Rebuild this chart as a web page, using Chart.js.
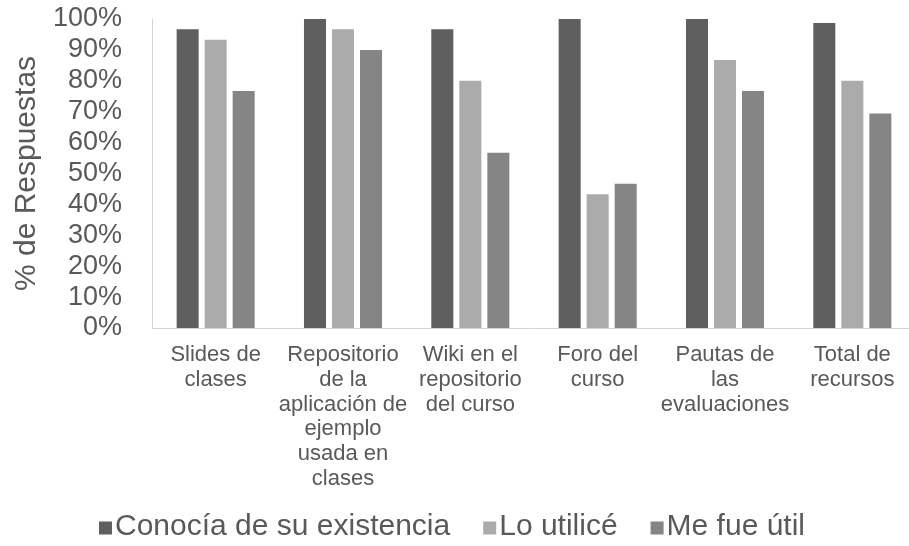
<!DOCTYPE html>
<html>
<head>
<meta charset="utf-8">
<script src="https://cdn.jsdelivr.net/npm/chart.js@4/dist/chart.umd.min.js"></script>
<style>
  html, body { margin: 0; padding: 0; background: #ffffff; overflow: hidden; }
  #chart { display: block; }
</style>
</head>
<body>
<canvas id="chart" width="920" height="546"></canvas>
<script>
// Recursos del curso: porcentaje de respuestas por recurso
const categories = [
  ['Slides de', 'clases'],
  ['Repositorio', 'de la', 'aplicación de', 'ejemplo', 'usada en', 'clases'],
  ['Wiki en el', 'repositorio', 'del curso'],
  ['Foro del', 'curso'],
  ['Pautas de', 'las', 'evaluaciones'],
  ['Total de', 'recursos']
];
const seriesNames = ['Conocía de su existencia', 'Lo utilicé', 'Me fue útil'];
const conocia = [96.7, 100, 96.7, 100, 100, 98.7];
const utilice = [93.3, 96.7, 80, 43.3, 86.7, 80];
const util    = [76.7, 90, 56.7, 46.7, 76.7, 69.4];
const yTicks  = [0, 10, 20, 30, 40, 50, 60, 70, 80, 90, 100];
const yTitle  = '% de Respuestas';

const FONT = '"Liberation Sans", Arial, sans-serif';
const TEXT = '#595959';
const colors = ['#5f5f5f', '#ababab', '#858585'];

// Legend row drawn under the category labels: small square followed by its text
const legendRow = {
  id: 'legendRow',
  afterDraw(chart) {
    const ctx = chart.ctx;
    ctx.save();
    ctx.font = '30px ' + FONT;
    ctx.textBaseline = 'middle';
    const box = 13, gap = 3, spacing = 33;
    const items = chart.data.datasets.map(d => ({
      text: d.label, color: d.backgroundColor, w: ctx.measureText(d.label).width
    }));
    const total = items.reduce((s, it) => s + box + gap + it.w, 0) + spacing * (items.length - 1);
    let x = 452 - total / 2;
    const y = 527;
    items.forEach(it => {
      ctx.fillStyle = it.color;
      ctx.fillRect(x, y - box / 2 + 1, box, box);
      x += box + gap;
      ctx.fillStyle = TEXT;
      ctx.fillText(it.text, x, y);
      x += it.w + spacing;
    });
    ctx.restore();
  }
};

const seriesValues = [conocia, utilice, util];

new Chart(document.getElementById('chart'), {
  type: 'bar',
  data: {
    labels: categories,
    datasets: seriesNames.map((name, i) => ({
      label: name,
      data: seriesValues[i],
      backgroundColor: colors[i],
      borderWidth: 0,
      categoryPercentage: 0.66,
      barPercentage: 0.786
    }))
  },
  options: {
    responsive: false,
    animation: false,
    devicePixelRatio: 1,
    layout: { padding: { top: 19, right: 4, bottom: 0, left: 0 } },
    plugins: {
      legend: { display: false },
      tooltip: { enabled: false }
    },
    scales: {
      x: {
        grid: { display: false, drawTicks: false },
        border: { display: true, color: '#d4d4d4', width: 1 },
        ticks: {
          color: TEXT,
          font: { family: FONT, size: 22, lineHeight: 1.12 },
          padding: 15,
          maxRotation: 0,
          autoSkip: false
        },
        afterFit(scale) {
          scale.height = 218;
          scale.paddingLeft = 0;
          scale.paddingRight = 0;
        }
      },
      y: {
        min: 0,
        max: 100,
        grid: { display: false, drawTicks: false },
        border: { display: true, color: '#d4d4d4', width: 1 },
        afterBuildTicks(scale) { scale.ticks = yTicks.map(v => ({ value: v })); },
        ticks: {
          color: TEXT,
          font: { family: FONT, size: 27 },
          padding: 30,
          autoSkip: false,
          callback: v => v + '%'
        },
        title: {
          display: true,
          text: yTitle,
          color: TEXT,
          font: { family: FONT, size: 30 },
          padding: { top: 9, bottom: 0 }
        },
        afterFit(scale) {
          scale.width = 152;
          scale.paddingTop = 0;
          scale.paddingBottom = 0;
        }
      }
    }
  },
  plugins: [legendRow]
});
</script>
</body>
</html>
